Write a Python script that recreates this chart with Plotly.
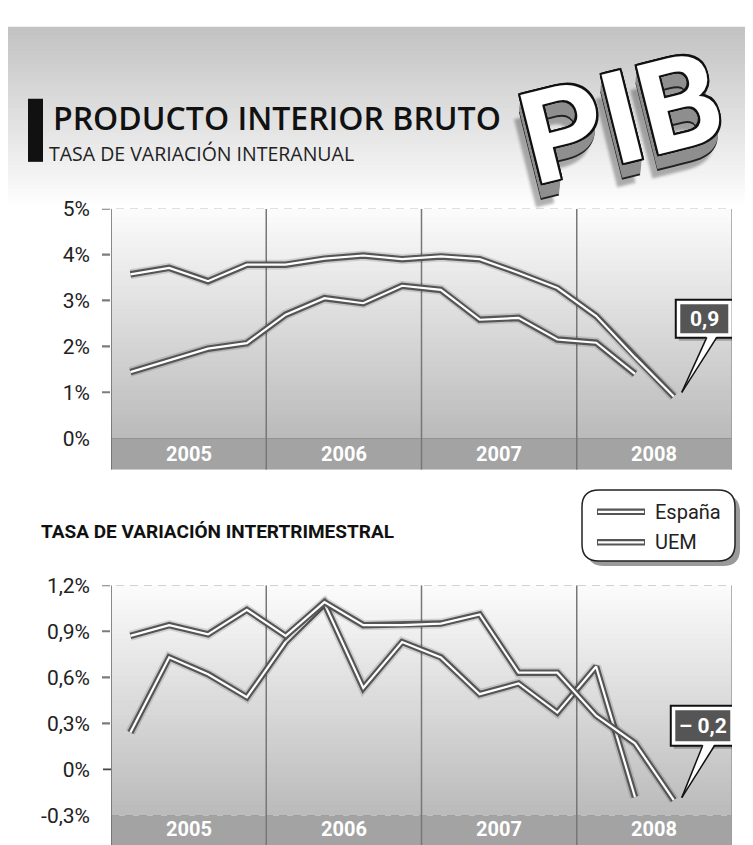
import plotly.graph_objects as go

# ---------------- data ----------------
quarters = ["2005 T1", "2005 T2", "2005 T3", "2005 T4",
            "2006 T1", "2006 T2", "2006 T3", "2006 T4",
            "2007 T1", "2007 T2", "2007 T3", "2007 T4",
            "2008 T1", "2008 T2", "2008 T3", "2008 T4"]
years = ["2005", "2006", "2007", "2008"]

espana_interanual = [3.57, 3.71, 3.42, 3.78, 3.78, 3.91, 3.98, 3.90,
                     3.96, 3.90, 3.60, 3.27, 2.66, 1.76, 0.91]
uem_interanual = [1.44, 1.70, 1.95, 2.07, 2.69, 3.05, 2.94, 3.32,
                  3.23, 2.58, 2.62, 2.15, 2.08, 1.40]

espana_intertrim = [0.87, 0.94, 0.88, 1.04, 0.87, 1.09, 0.94, 0.94,
                    0.95, 1.01, 0.63, 0.63, 0.35, 0.17, -0.20]
uem_intertrim = [0.24, 0.73, 0.62, 0.47, 0.83, 1.08, 0.53, 0.83,
                 0.73, 0.49, 0.56, 0.37, 0.67, -0.18]

ticks_top = [0, 1, 2, 3, 4, 5]
ticklabels_top = ["0%", "1%", "2%", "3%", "4%", "5%"]
ticks_bottom = [-0.3, 0, 0.3, 0.6, 0.9, 1.2]
ticklabels_bottom = ["-0,3%", "0%", "0,3%", "0,6%", "0,9%", "1,2%"]

series_names = ["España", "UEM"]
title = "PRODUCTO INTERIOR BRUTO"
subtitle1 = "TASA DE VARIACIÓN INTERANUAL"
subtitle2 = "TASA DE VARIACIÓN INTERTRIMESTRAL"
logo = "PIB"

# ---------------- layout constants ----------------
W, H = 753, 845
NARROW = "Roboto, Liberation Sans Narrow, sans-serif"
SANS = "Open Sans, Noto Sans, sans-serif"

def px(x):
    return x / W

def py(y):
    return 1 - y / H

X_RANGE = [-0.5, len(quarters) - 0.5]
TOP_RANGE = [-0.687, 5]
BOT_RANGE = [-0.493, 1.2]
XDOM = [px(111), px(732)]
TOP_DOM = [py(464.3), py(199.5)]
BOT_DOM = [0, py(581.5)]

shapes = []
annotations = []


def hexmix(c1, c2, t):
    a = [int(c1[i:i + 2], 16) for i in (1, 3, 5)]
    b = [int(c2[i:i + 2], 16) for i in (1, 3, 5)]
    return "#%02x%02x%02x" % tuple(round(a[i] + (b[i] - a[i]) * t) for i in range(3))


def gradient(xref, yref, x0, x1, y0, y1, c0, c1, n=48):
    step = (y1 - y0) / n
    for k in range(n):
        ya = y0 + step * k
        yb = y0 + step * (k + 1) if k == n - 1 else y0 + step * (k + 1.6)
        shapes.append(dict(type="rect", xref=xref, yref=yref, x0=x0, x1=x1,
                           y0=ya, y1=yb, fillcolor=hexmix(c0, c1, (k + 0.5) / n),
                           line=dict(width=0), layer="below"))


# header background gradient (paper)
gradient("paper", "paper", px(8), px(745), py(15), py(180), "#c2c2c2", "#f8f8f8", 40)
gradient("paper", "paper", px(8), px(745), py(180), py(196), "#f8f8f8", "#ffffff", 4)

# black bar next to title
shapes.append(dict(type="rect", xref="paper", yref="paper", x0=px(28), x1=px(43),
                   y0=py(152), y1=py(88), fillcolor="#111111", line=dict(width=0),
                   layer="below"))


def panel(xr, yr, yrange, baseline, grid_vals, solid_vals, dashed_base):
    gradient(xr, yr, X_RANGE[0], X_RANGE[1], baseline, yrange[1], "#bababa", "#fcfcfc")
    shapes.append(dict(type="rect", xref=xr, yref=yr, x0=X_RANGE[0], x1=X_RANGE[1],
                       y0=yrange[0], y1=baseline, fillcolor="#a3a3a3",
                       line=dict(width=0), layer="below"))
    shapes.append(dict(type="line", xref=xr, yref=yr, x0=X_RANGE[0], x1=X_RANGE[0],
                       y0=yrange[0], y1=yrange[1], line=dict(color="#666666", width=1.5),
                       layer="below"))
    shapes.append(dict(type="line", xref=xr, yref=yr, x0=X_RANGE[1], x1=X_RANGE[1],
                       y0=yrange[0], y1=yrange[1], line=dict(color="#9a9a9a", width=1.5),
                       layer="below"))
    for k in range(1, len(years)):
        xv = 4 * k - 0.5
        shapes.append(dict(type="line", xref=xr, yref=yr, x0=xv, x1=xv,
                           y0=yrange[0], y1=yrange[1],
                           line=dict(color="#777777", width=1.5), layer="below"))
    for v in grid_vals:
        shapes.append(dict(type="line", xref="paper", yref=yr, x0=px(102), x1=XDOM[1],
                           y0=v, y1=v, line=dict(color="#7c7c7c", width=2.2, dash="8px,6px"),
                           layer="below"))
    if dashed_base is not None:
        shapes.append(dict(type="line", xref="paper", yref=yr, x0=XDOM[0], x1=XDOM[1],
                           y0=dashed_base, y1=dashed_base,
                           line=dict(color="#7c7c7c", width=2.2, dash="8px,6px"),
                           layer="below"))
    for v, x0 in solid_vals:
        shapes.append(dict(type="line", xref="paper", yref=yr, x0=x0, x1=XDOM[1],
                           y0=v, y1=v, line=dict(color="#444444", width=1.8),
                           layer="below"))


panel("x", "y", TOP_RANGE, 0, [1, 2, 3, 4, 5], [(0, XDOM[0])], None)
panel("x2", "y2", BOT_RANGE, -0.3, [0.3, 0.6, 0.9, 1.2], [(0, px(103))], -0.3)

# year labels in the bands
for k, yr_label in enumerate(years):
    xc = 4 * k + 1.5
    for xr, yr, yv in (("x", "y", -0.344), ("x2", "y2", -0.39)):
        annotations.append(dict(x=xc, y=yv, xref=xr, yref=yr, text="<b>%s</b>" % yr_label,
                                showarrow=False, font=dict(family=NARROW, size=20,
                                                           color="white")))

# ---------------- traces ----------------
fig = go.Figure()


def double_line(xvals, yvals, name, xa, ya):
    fig.add_trace(go.Scatter(x=xvals, y=yvals, mode="lines", xaxis=xa, yaxis=ya,
                             line=dict(color="rgba(0,0,0,0.13)", width=10),
                             hoverinfo="skip", showlegend=False))
    fig.add_trace(go.Scatter(x=xvals, y=yvals, mode="lines", xaxis=xa, yaxis=ya, name=name,
                             line=dict(color="#555555", width=6.5), showlegend=False))
    fig.add_trace(go.Scatter(x=xvals, y=yvals, mode="lines", xaxis=xa, yaxis=ya,
                             line=dict(color="#ffffff", width=2.2),
                             hoverinfo="skip", showlegend=False))


double_line(quarters[:len(uem_interanual)], uem_interanual, series_names[1], "x", "y")
double_line(quarters[:len(espana_interanual)], espana_interanual, series_names[0], "x", "y")
double_line(quarters[:len(uem_intertrim)], uem_intertrim, series_names[1], "x2", "y2")
double_line(quarters[:len(espana_intertrim)], espana_intertrim, series_names[0], "x2", "y2")


# ---------------- callouts ----------------
def fmt(v):
    s = ("%.1f" % abs(v)).replace(".", ",")
    return ("– " + s) if v < 0 else s


def callout(xr, yr, xa, ya, box, tip, base_l, base_r, text):
    bx0, bx1, by0, by1 = box
    common = dict(xref=xr, yref=yr, xsizemode="pixel", ysizemode="pixel",
                  xanchor=xa, yanchor=ya, layer="above")
    shapes.append(dict(type="rect", x0=bx0 + 3, x1=bx1 + 3, y0=by0 - 3, y1=by1 - 3,
                       fillcolor="rgba(0,0,0,0.25)", line=dict(width=0), **common))
    shapes.append(dict(type="rect", x0=bx0, x1=bx1, y0=by0, y1=by1, fillcolor="white",
                       line=dict(color="#111111", width=2), **common))
    shapes.append(dict(type="rect", x0=bx0 + 4.5, x1=bx1 - 4.5, y0=by0 + 4.5, y1=by1 - 4.5,
                       fillcolor="#555555", line=dict(width=0), **common))
    path_fill = "M %g,%g L %g,%g L %g,%g Z" % (base_l[0], base_l[1], tip[0], tip[1],
                                               base_r[0], base_r[1])
    shapes.append(dict(type="path", path=path_fill, fillcolor="white",
                       line=dict(width=0), **common))
    shapes.append(dict(type="line", x0=base_l[0], y0=base_l[1] - 1.5, x1=tip[0], y1=tip[1],
                       line=dict(color="#111111", width=1.5), **common))
    shapes.append(dict(type="line", x0=base_r[0], y0=base_r[1] - 1.5, x1=tip[0], y1=tip[1],
                       line=dict(color="#111111", width=1.5), **common))
    annotations.append(dict(x=xa, y=ya, xref=xr, yref=yr, xshift=(bx0 + bx1) / 2,
                            yshift=(by0 + by1) / 2, text="<b>%s</b>" % text,
                            showarrow=False, font=dict(family=NARROW, size=21,
                                                       color="white")))


i_top = len(espana_interanual) - 1
callout("x", "y", quarters[i_top], espana_interanual[i_top],
        (2, 59, 58.6, 96.6), (8, 4), (33, 60.5), (43, 60.5),
        fmt(espana_interanual[i_top]))
i_bot = len(espana_intertrim) - 1
callout("x2", "y2", quarters[i_bot], espana_intertrim[i_bot],
        (-3, 61, 54.4, 94.4), (8, 2.4), (29, 56.3), (41, 56.3),
        fmt(espana_intertrim[i_bot]))


# ---------------- manual legend ----------------
def rounded_rect(x0, y0, x1, y1, r):
    return ("M %f,%f L %f,%f Q %f,%f %f,%f L %f,%f Q %f,%f %f,%f L %f,%f Q %f,%f %f,%f "
            "L %f,%f Q %f,%f %f,%f Z") % (
        px(x0 + r), py(y0), px(x1 - r), py(y0), px(x1), py(y0), px(x1), py(y0 + r),
        px(x1), py(y1 - r), px(x1), py(y1), px(x1 - r), py(y1),
        px(x0 + r), py(y1), px(x0), py(y1), px(x0), py(y1 - r),
        px(x0), py(y0 + r), px(x0), py(y0), px(x0 + r), py(y0))


shapes.append(dict(type="path", xref="paper", yref="paper",
                   path=rounded_rect(587, 490, 740, 562, 17),
                   fillcolor="#9a9a9a", line=dict(width=0), layer="above"))
shapes.append(dict(type="path", xref="paper", yref="paper",
                   path=rounded_rect(582, 485, 735, 557, 17),
                   fillcolor="white", line=dict(color="#222222", width=1.5), layer="above"))
for name, yy in zip(series_names, (507, 538)):
    shapes.append(dict(type="line", xref="paper", yref="paper", x0=px(597), x1=px(645),
                       y0=py(yy), y1=py(yy), line=dict(color="#555555", width=6.5),
                       layer="above"))
    shapes.append(dict(type="line", xref="paper", yref="paper", x0=px(598), x1=px(644),
                       y0=py(yy), y1=py(yy), line=dict(color="white", width=2.2),
                       layer="above"))
    annotations.append(dict(x=px(653), y=py(yy), xref="paper", yref="paper", text=name,
                            xanchor="left", yanchor="middle", showarrow=False,
                            font=dict(family=NARROW, size=20, color="#222222")))

# ---------------- titles ----------------
annotations.append(dict(x=px(51), y=py(107), xref="paper", yref="paper", text=title,
                        xanchor="left", yanchor="middle", showarrow=False,
                        font=dict(family=SANS, size=32, color="#111111", weight=600)))
annotations.append(dict(x=px(47), y=py(144), xref="paper", yref="paper", text=subtitle1,
                        xanchor="left", yanchor="middle", showarrow=False,
                        font=dict(family=SANS, size=19.5, color="#222222")))
annotations.append(dict(x=px(39), y=py(527), xref="paper", yref="paper",
                        text="<b>%s</b>" % subtitle2,
                        xanchor="left", yanchor="middle", showarrow=False,
                        font=dict(family=NARROW, size=19, color="#111111")))

# PIB logo
outline = ", ".join("%gpx %gpx 0 #111" % (dx, dy) for dx, dy in
                    [(-2, 0), (2, 0), (0, -2), (0, 2), (-2, -2), (2, -2), (-2, 2), (2, 2)])
extrude = ", ".join("%.1fpx %dpx 0 #8f8f8f" % (-0.35 * k, k) for k in range(3, 15))
edge = "-5.5px 16px 0 #222, -12px 22px 3px rgba(0,0,0,0.3)"
annotations.append(dict(x=px(622), y=py(108), xref="paper", yref="paper",
                        text="<b>%s</b>" % logo, textangle=-14, showarrow=False,
                        xanchor="center", yanchor="middle",
                        font=dict(family="Roboto, Liberation Sans, sans-serif", size=128,
                                  color="white",
                                  shadow=outline + ", " + extrude + ", " + edge)))

# ---------------- layout ----------------
axis_common = dict(showgrid=False, zeroline=False, showline=False)
fig.update_layout(
    width=W, height=H, margin=dict(l=0, r=0, t=0, b=0),
    paper_bgcolor="white", plot_bgcolor="rgba(0,0,0,0)",
    showlegend=False,
    xaxis=dict(domain=XDOM, type="category", categoryorder="array",
               categoryarray=quarters, range=X_RANGE, showticklabels=False,
               ticks="", anchor="y", **axis_common),
    yaxis=dict(domain=TOP_DOM, range=TOP_RANGE, tickvals=ticks_top,
               ticktext=ticklabels_top, ticks="", ticklabelstandoff=20,
               tickfont=dict(family=NARROW, size=21, color="#222222"),
               anchor="x", **axis_common),
    xaxis2=dict(domain=XDOM, type="category", categoryorder="array",
                categoryarray=quarters, range=X_RANGE, showticklabels=False,
                ticks="", anchor="y2", **axis_common),
    yaxis2=dict(domain=BOT_DOM, range=BOT_RANGE, tickvals=ticks_bottom,
                ticktext=ticklabels_bottom, ticks="", ticklabelstandoff=20,
                tickfont=dict(family=NARROW, size=21, color="#222222"),
                anchor="x2", **axis_common),
    shapes=shapes,
    annotations=annotations,
)

fig.write_html("out.html", config=dict(displayModeBar=False),
               post_script="document.body.style.margin='0';"
                           "document.body.style.overflow='hidden';")
